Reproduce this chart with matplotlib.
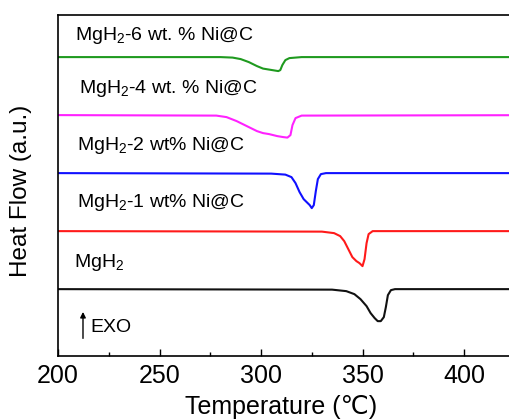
import numpy as np
import matplotlib.pyplot as plt
from matplotlib.ticker import MultipleLocator

plt.rcParams['font.family'] = ['Liberation Sans', 'DejaVu Sans', 'Noto Sans CJK SC']
plt.rcParams['mathtext.fontset'] = 'custom'
plt.rcParams['mathtext.rm'] = 'Liberation Sans'
plt.rcParams['mathtext.it'] = 'Liberation Sans'

# DSC curves: temperature (C) and deflection from each baseline (a.u.)
t_6 = [200, 280, 286, 290, 294, 298, 301, 304, 307, 308.5, 309.5, 310.5, 312, 314, 320, 450]
d_6 = [0, 0, -0.5, -2, -5, -9, -11.5, -12.5, -13.5, -14, -13, -8, -3, -1, 0, 0]

t_4 = [200, 278, 283, 288, 293, 298, 301, 304, 308, 311, 313, 314.5, 315.5, 317, 320, 450]
d_4 = [0, -0.5, -2, -6, -11, -16, -18, -19, -21, -22, -22.5, -20, -10, -3, -0.5, 0]

t_2 = [200, 305, 312, 315, 317, 319, 321, 322.5, 324, 325, 326, 327, 328, 329.5, 332, 450]
d_2 = [0, -0.5, -1.5, -4, -10, -19, -26, -29, -32, -35, -32, -18, -6, -1, 0, 0]

t_1 = [200, 330, 336, 339, 341, 343, 345, 347, 348.5, 350, 351, 352, 353, 355, 450]
d_1 = [0, -0.5, -2, -5, -10, -18, -26, -30, -32, -35, -28, -12, -3, 0, 0]

t_0 = [200, 335, 342, 346, 349, 352, 354, 356, 357.5, 359, 360.5, 361.5, 362.5, 364, 366, 450]
d_0 = [0, -0.5, -2, -5, -10, -17, -24, -29, -32, -32, -28, -18, -6, -1, 0, 0]

baselines = [299, 241, 183, 125, 67]
colors = ['#1f9a1f', '#ff22ff', '#1010ff', '#ff1a1a', '#111111']
labels = [r'MgH$_2$-6 wt. % Ni@C', r'MgH$_2$-4 wt. % Ni@C', r'MgH$_2$-2 wt% Ni@C',
          r'MgH$_2$-1 wt% Ni@C', r'MgH$_2$']
label_x = [208.4, 210.3, 209.3, 209.3, 207.9]
label_y = [321, 268, 211, 154, 94]
xticks = [200, 250, 300, 350, 400]

fig = plt.figure(figsize=(5.09, 4.19), dpi=100)
ax = fig.add_axes([0.114, 0.150, 0.997, 0.814])

curves = [(t_6, d_6), (t_4, d_4), (t_2, d_2), (t_1, d_1), (t_0, d_0)]
for (t, d), base, c in zip(curves, baselines, colors):
    ax.plot(t, np.array(d) + base, color=c, lw=1.5)

for x, y, s in zip(label_x, label_y, labels):
    ax.text(x, y, s, fontsize=14, va='center', ha='left')

ax.annotate('', xy=(212.3, 47), xytext=(212.3, 15),
            arrowprops=dict(arrowstyle='-|>', color='black', lw=1, mutation_scale=8))
ax.text(216, 29, 'EXO', fontsize=14, va='center', ha='left')

ax.set_xlim(200, 450)
ax.set_ylim(0, 341)
ax.set_xticks(xticks)
ax.xaxis.set_minor_locator(MultipleLocator(25))
ax.tick_params(axis='x', which='major', direction='in', length=5, width=1,
               labelsize=18, pad=6, top=False)
ax.tick_params(axis='x', which='minor', direction='in', length=3, width=1, top=False)
ax.set_yticks([])
for s in ax.spines.values():
    s.set_linewidth(1.2)

ax.set_xlabel('Temperature (℃)', fontsize=18)
ax.set_ylabel('Heat Flow (a.u.)', fontsize=17.5)
ax.xaxis.set_label_coords(0.44, -0.115)
ax.yaxis.set_label_coords(-0.052, 0.484)

fig.savefig('out.png', dpi=100)
